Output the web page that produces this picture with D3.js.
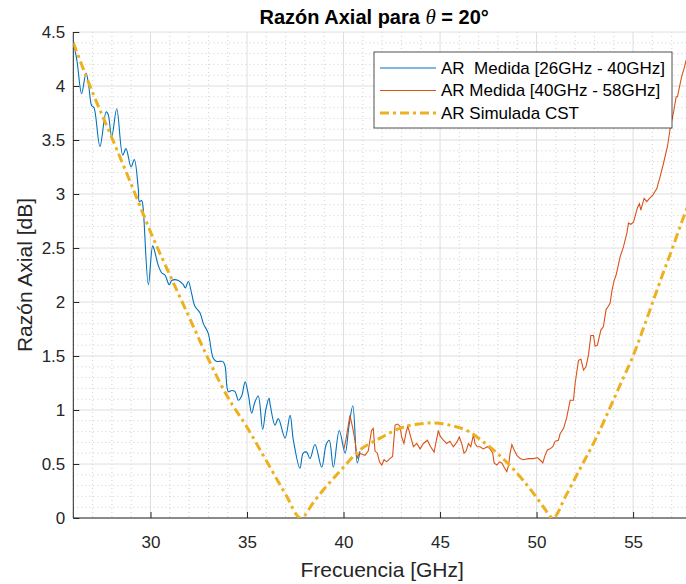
<!DOCTYPE html>
<html>
<head>
<meta charset="utf-8">
<script src="https://cdn.jsdelivr.net/npm/d3@7"></script>
<style>
  body { margin: 0; background: #fff; }
  svg { font-family: "Liberation Sans", Arial, Helvetica, sans-serif; }
</style>
</head>
<body>
<svg id="chart"></svg>
<script>
// measured AR 26-40 GHz
const blueFreq = [26.0, 26.2, 26.43, 26.66, 26.8, 26.95, 27.07, 27.38, 27.7, 27.8, 27.99, 28.25, 28.56, 28.73, 28.99, 29.16, 29.37, 29.42, 29.54, 29.6, 29.89, 30.11, 30.2, 30.4, 30.58, 30.75, 30.97, 31.1, 31.44, 31.7, 31.8, 31.96, 32.13, 32.3, 32.56, 32.74, 32.99, 33.25, 33.43, 33.74, 33.86, 34.03, 34.2, 34.38, 34.55, 34.72, 34.9, 35.07, 35.24, 35.4, 35.58, 35.81, 35.98, 36.14, 36.2, 36.45, 36.62, 36.97, 37.23, 37.4, 37.74, 37.91, 38.09, 38.26, 38.52, 38.87, 39.1, 39.26, 39.47, 39.78, 40.08, 40.28, 40.48, 40.71, 40.85];
const blueAR = [4.42, 4.22, 3.93, 4.12, 4.0, 3.82, 3.80, 3.44, 3.76, 3.74, 3.53, 3.79, 3.36, 3.42, 3.25, 3.32, 3.04, 2.93, 2.94, 2.9, 2.16, 2.52, 2.48, 2.34, 2.27, 2.25, 2.16, 2.2, 2.2, 2.16, 2.13, 2.19, 2.08, 1.96, 1.9, 1.8, 1.71, 1.48, 1.45, 1.45, 1.41, 1.17, 1.18, 1.17, 1.09, 1.13, 1.26, 1.14, 0.97, 1.07, 1.13, 0.82, 1.01, 1.11, 1.05, 0.86, 0.92, 0.74, 0.95, 0.72, 0.46, 0.6, 0.61, 0.55, 0.68, 0.47, 0.68, 0.72, 0.47, 0.81, 0.6, 0.85, 1.04, 0.51, 0.62];

// measured AR 40-58 GHz
const orangeFreq = [40.02, 40.12, 40.33, 40.47, 40.59, 40.71, 40.81, 41.11, 41.28, 41.45, 41.54, 41.63, 41.75, 41.86, 41.98, 42.1, 42.23, 42.4, 42.54, 42.67, 42.79, 42.93, 43.01, 43.13, 43.24, 43.33, 43.45, 43.62, 43.79, 43.97, 44.14, 44.34, 44.51, 44.69, 44.91, 45.0, 45.17, 45.34, 45.51, 45.69, 45.86, 46.0, 46.12, 46.24, 46.35, 46.47, 46.59, 46.73, 46.81, 46.93, 47.07, 47.24, 47.45, 47.59, 47.73, 47.8, 47.94, 48.08, 48.2, 48.32, 48.46, 48.55, 48.63, 48.72, 48.84, 48.98, 49.15, 49.32, 49.58, 49.84, 50.04, 50.22, 50.32, 50.44, 50.56, 50.7, 50.84, 50.96, 51.13, 51.22, 51.4, 51.56, 51.74, 51.91, 52.0, 52.17, 52.3, 52.43, 52.56, 52.69, 52.81, 52.95, 53.03, 53.15, 53.33, 53.46, 53.6, 53.72, 53.81, 53.9, 54.02, 54.12, 54.33, 54.5, 54.68, 54.76, 54.88, 55.02, 55.22, 55.33, 55.4, 55.57, 55.71, 55.85, 56.02, 56.23, 56.4, 56.57, 56.78, 56.95, 57.09, 57.23, 57.3, 57.4, 57.52, 57.64, 57.75];
const orangeAR = [0.64, 0.72, 0.95, 0.84, 0.72, 0.55, 0.6, 0.58, 0.62, 0.81, 0.83, 0.62, 0.6, 0.52, 0.49, 0.54, 0.52, 0.55, 0.57, 0.86, 0.87, 0.85, 0.75, 0.69, 0.79, 0.85, 0.77, 0.66, 0.69, 0.64, 0.69, 0.72, 0.66, 0.61, 0.81, 0.76, 0.72, 0.69, 0.71, 0.66, 0.70, 0.75, 0.69, 0.60, 0.62, 0.69, 0.66, 0.77, 0.69, 0.66, 0.66, 0.64, 0.66, 0.64, 0.60, 0.51, 0.49, 0.52, 0.51, 0.47, 0.43, 0.49, 0.60, 0.68, 0.63, 0.58, 0.55, 0.54, 0.55, 0.55, 0.56, 0.53, 0.51, 0.58, 0.63, 0.64, 0.66, 0.71, 0.72, 0.78, 0.83, 0.93, 1.09, 1.09, 1.25, 1.46, 1.47, 1.37, 1.40, 1.51, 1.69, 1.69, 1.59, 1.60, 1.74, 1.77, 1.93, 1.96, 1.99, 2.10, 2.20, 2.25, 2.42, 2.51, 2.64, 2.73, 2.72, 2.74, 2.87, 2.91, 2.85, 2.96, 2.93, 2.96, 2.99, 3.05, 3.16, 3.28, 3.44, 3.64, 3.75, 3.90, 3.90, 3.99, 4.09, 4.16, 4.24];

// simulated AR (CST)
const simFreq = [26, 27, 28, 29, 30, 31, 32, 33, 34, 35, 36, 37, 37.78, 38.5, 39, 39.8, 40.85, 41.9, 42.9, 43.9, 44.6, 45.5, 46.5, 47.2, 47.9, 48.6, 49.3, 50.0, 50.4, 50.84, 51.5, 52, 52.5, 53, 53.5, 54, 54.5, 55, 55.5, 56, 56.5, 57, 57.5, 58];
const simAR = [4.40, 3.94, 3.52, 3.09, 2.65, 2.25, 1.86, 1.47, 1.12, 0.84, 0.53, 0.22, 0.0, 0.16, 0.27, 0.43, 0.63, 0.74, 0.83, 0.87, 0.88, 0.86, 0.80, 0.71, 0.61, 0.49, 0.35, 0.19, 0.09, 0.0, 0.2, 0.37, 0.54, 0.71, 0.9, 1.1, 1.3, 1.5, 1.74, 1.99, 2.24, 2.48, 2.73, 2.97];

const xTicks = [30, 35, 40, 45, 50, 55];
const yTicks = [0, 0.5, 1, 1.5, 2, 2.5, 3, 3.5, 4, 4.5];
const seriesNames = ["AR  Medida [26GHz - 40GHz]", "AR Medida [40GHz - 58GHz]", "AR Simulada CST"];

const width = 686, height = 584;
const svg = d3.select("#chart").attr("width", width).attr("height", height);

const margin = { top: 32, left: 73.3 };
const innerWidth = 617.7;
const innerHeight = 486;
const axisColor = "#262626";

const xScale = d3.scaleLinear().domain([26, 58]).range([0, innerWidth]);
const yScale = d3.scaleLinear().domain([0, 4.5]).range([innerHeight, 0]);

const g = svg.append("g").attr("transform", `translate(${margin.left},${margin.top})`);

// minor grid
const xMinor = d3.range(26, 59, 1).filter((v) => v % 5 !== 0);
const yMinor = d3.range(1, 45).map((v) => v / 10).filter((v) => Math.round(v * 10) % 5 !== 0);
g.append("g").selectAll("line").data(xMinor).join("line")
  .attr("x1", (d) => xScale(d)).attr("x2", (d) => xScale(d))
  .attr("y1", 0).attr("y2", innerHeight)
  .attr("stroke", "#c4c4c4").attr("stroke-width", 0.8).attr("stroke-dasharray", "1,3");
g.append("g").selectAll("line").data(yMinor).join("line")
  .attr("y1", (d) => yScale(d)).attr("y2", (d) => yScale(d))
  .attr("x1", 0).attr("x2", innerWidth)
  .attr("stroke", "#c4c4c4").attr("stroke-width", 0.8).attr("stroke-dasharray", "1,3");

// major grid
g.append("g").selectAll("line").data(xTicks).join("line")
  .attr("x1", (d) => xScale(d)).attr("x2", (d) => xScale(d))
  .attr("y1", 0).attr("y2", innerHeight)
  .attr("stroke", "#dedede").attr("stroke-width", 1);
g.append("g").selectAll("line").data(yTicks).join("line")
  .attr("y1", (d) => yScale(d)).attr("y2", (d) => yScale(d))
  .attr("x1", 0).attr("x2", innerWidth)
  .attr("stroke", "#dedede").attr("stroke-width", 1);

// axes
const xAxis = d3.axisBottom(xScale).tickValues(xTicks).tickSize(-6).tickPadding(18);
const xAxisG = g.append("g").attr("transform", `translate(0,${innerHeight})`).call(xAxis);
const yAxis = d3.axisLeft(yScale).tickValues(yTicks).tickFormat(d3.format("")).tickSize(-6).tickPadding(8);
const yAxisG = g.append("g").call(yAxis);
[xAxisG, yAxisG].forEach((ax) => {
  ax.select(".domain").remove();
  ax.selectAll(".tick line").attr("stroke", axisColor);
  ax.selectAll(".tick text").attr("fill", axisColor).attr("font-size", 17)
    .attr("font-family", "Liberation Sans, Arial, sans-serif");
});
g.append("line").attr("x1", 0).attr("x2", innerWidth).attr("y1", innerHeight).attr("y2", innerHeight)
  .attr("stroke", axisColor);
g.append("line").attr("x1", 0).attr("x2", 0).attr("y1", 0).attr("y2", innerHeight)
  .attr("stroke", axisColor);

// lines
svg.append("defs").append("clipPath").attr("id", "plot-clip")
  .append("rect").attr("width", innerWidth).attr("height", innerHeight);
const lines = g.append("g").attr("clip-path", "url(#plot-clip)");

const toPts = (fs, vs) => fs.map((f, i) => [f, vs[i]]);
const lineGen = d3.line().x((d) => xScale(d[0])).y((d) => yScale(d[1]));

lines.append("path").attr("d", lineGen.curve(d3.curveCatmullRom.alpha(0.5))(toPts(blueFreq, blueAR)))
  .attr("fill", "none").attr("stroke", "#0072BD").attr("stroke-width", 1.1);
lines.append("path").attr("d", lineGen.curve(d3.curveLinear)(toPts(orangeFreq, orangeAR)))
  .attr("fill", "none").attr("stroke", "#D95319").attr("stroke-width", 1.1);
lines.append("path").attr("d", lineGen.curve(d3.curveMonotoneX)(toPts(simFreq, simAR)))
  .attr("fill", "none").attr("stroke", "#EDB120").attr("stroke-width", 3)
  .attr("stroke-dasharray", "9,4,3,4");

// legend
const legend = svg.append("g").attr("transform", "translate(374,52)");
legend.append("rect").attr("width", 298).attr("height", 76)
  .attr("fill", "#fff").attr("stroke", axisColor).attr("stroke-width", 0.8);
const legendStyles = [
  { color: "#0072BD", w: 1.1, dash: null },
  { color: "#D95319", w: 1.1, dash: null },
  { color: "#EDB120", w: 3, dash: "9,4,3,4" },
];
seriesNames.forEach((name, i) => {
  const yy = 16 + i * 22.5;
  legend.append("line").attr("x1", 6).attr("x2", 62).attr("y1", yy).attr("y2", yy)
    .attr("stroke", legendStyles[i].color).attr("stroke-width", legendStyles[i].w)
    .attr("stroke-dasharray", legendStyles[i].dash);
  legend.append("text").attr("x", 67).attr("y", yy).attr("dy", "0.35em")
    .attr("font-size", 17).attr("fill", "#000").style("white-space", "pre").text(name);
});

// axis titles
svg.append("text").attr("x", margin.left + xScale(42)).attr("y", 577)
  .attr("text-anchor", "middle").attr("font-size", 21).attr("fill", axisColor)
  .text("Frecuencia [GHz]");
svg.append("text").attr("transform", `translate(32,${margin.top + innerHeight / 2}) rotate(-90)`)
  .attr("text-anchor", "middle").attr("font-size", 21).attr("fill", axisColor)
  .text("Razón Axial [dB]");

// title
const title = svg.append("text").attr("x", margin.left + innerWidth / 2 - 8).attr("y", 24)
  .attr("text-anchor", "middle").attr("font-size", 20).attr("font-weight", "bold").attr("fill", "#000");
title.append("tspan").text("Razón Axial para ");
title.append("tspan").attr("font-family", "Liberation Serif, serif").attr("font-style", "italic")
  .attr("font-weight", "normal").attr("font-size", 21).text("θ");
title.append("tspan").text(" = 20°");
</script>
</body>
</html>
